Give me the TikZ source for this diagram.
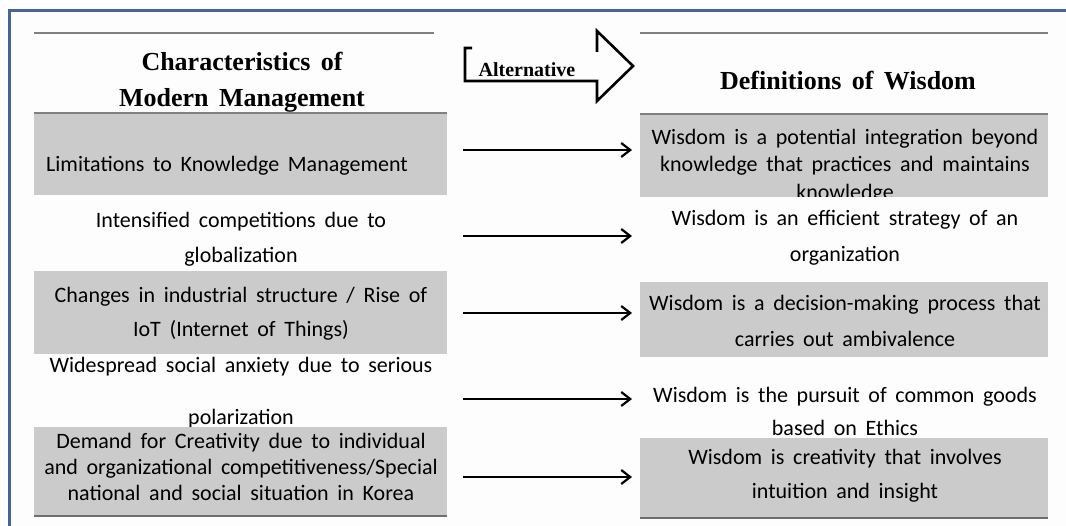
\documentclass[tikz,border=0pt]{standalone}
\usepackage{fontspec}
\setmainfont{Carlito}[WordSpace=1.75]
\newfontfamily\headfont{Liberation Serif}[WordSpace=1.6]
\usetikzlibrary{arrows.meta}
\definecolor{framecol}{HTML}{46649A}
\definecolor{boxgray}{HTML}{CBCBCB}
\definecolor{rulegray}{HTML}{808080}
\definecolor{bottomgray}{HTML}{6E6E6E}
\definecolor{innerbg}{HTML}{FDFDFD}
\tikzset{
  graybox/.style={fill=boxgray, draw=none, inner sep=0pt, outer sep=0pt, anchor=north west},
  whitebox/.style={fill=innerbg, draw=none, inner sep=0pt, outer sep=0pt, anchor=north west},
  body/.style={font=\fontsize{22}{35}\selectfont, align=center, inner sep=0pt},
  head/.style={font=\headfont\bfseries\fontsize{26}{36}\selectfont, align=center, inner sep=0pt},
  alttext/.style={font=\headfont\bfseries\fontsize{20}{22}\selectfont, inner sep=0pt},
  rule/.style={draw=rulegray, line width=2pt},
  baserule/.style={draw=bottomgray, line width=2pt},
  altline/.style={draw=black, line width=2.6pt, line join=miter},
  arr/.style={line width=2.2pt, shorten <=16pt, shorten >=8pt,
    -{Straight Barb[length=9pt,width=14pt,line width=2.2pt]}},
}
\begin{document}
\begin{tikzpicture}[x=1pt,y=-1pt]
\useasboundingbox (0,0) rectangle (1066,526);
\clip (0,0) rectangle (1066,526);
% outer frame (right and bottom sides lie outside the picture)
\draw[framecol, line width=3pt, fill=innerbg] (9.5,10.5) rectangle (1300,800);

% ---------- header area ----------
\draw[rule] (34,33) -- (434,33);
\draw[rule] (640,33) -- (1048,33);
\node[head] (H1) at (242,82) {Characteristics of\\Modern Management};
\node[head] (H2) at (848,81) {Definitions of Wisdom};

% Alternative arrow
\draw[altline] (472,48) -- (465,48) -- (465,81) -- (597,81) -- (597,101) -- (633,66) -- (597,31) -- (597,52);
\node[alttext] (alt) at (527,70) {Alternative};

% ---------- row 1 ----------
\node[graybox, minimum width=413pt, minimum height=81pt] (L1) at (34,114) {};
\node[body, anchor=west] (t1) at (46,166) {Limitations to Knowledge Management};
\node[graybox, minimum width=408pt, minimum height=83pt] (R1) at (640,114) {};
\node[body, font=\fontsize{22}{27.5}\selectfont] (s1) at (845,166) {Wisdom is a potential integration beyond\\knowledge that practices and maintains\\knowledge};
\draw[rule] (34,113) -- (447,113);
\draw[rule] (640,114) -- (1048,114);

% ---------- row 2 ----------
\node[whitebox, minimum width=413pt, minimum height=76pt] (L2) at (34,195) {};
\node[body] (t2) at (241,239) {Intensified competitions due to\\globalization};
\node[whitebox, minimum width=408pt, minimum height=85pt] (R2) at (640,197) {};
\node[body, font=\fontsize{22}{36}\selectfont] (s2) at (845,238) {Wisdom is an efficient strategy of an\\organization};

% ---------- row 3 ----------
\node[graybox, minimum width=413pt, minimum height=83pt] (L3) at (34,271) {};
\node[body, font=\fontsize{22}{34}\selectfont] (t3) at (241,314) {Changes in industrial structure / Rise of\\IoT (Internet of Things)};
\node[graybox, minimum width=408pt, minimum height=75pt] (R3) at (640,282) {};
\node[body, font=\fontsize{22}{36}\selectfont] (s3) at (845,321) {Wisdom is a decision-making process that\\carries out ambivalence};

% ---------- row 4 ----------
\node[whitebox, minimum width=413pt, minimum height=73pt] (L4) at (34,354) {};
\node[body, font=\fontsize{22}{52}\selectfont] (t4) at (241,393) {Widespread social anxiety due to serious\\polarization};
\node[whitebox, minimum width=408pt, minimum height=81pt] (R4) at (640,357) {};
\node[body, font=\fontsize{22}{33}\selectfont] (s4) at (845,411) {Wisdom is the pursuit of common goods\\based on Ethics};

% ---------- row 5 ----------
\node[graybox, minimum width=413pt, minimum height=89pt] (L5) at (34,427) {};
\node[body, font=\fontsize{22}{26}\selectfont] (t5) at (241,467) {Demand for Creativity due to individual\\and organizational competitiveness/Special\\national and social situation in Korea};
\node[graybox, minimum width=408pt, minimum height=80pt] (R5) at (640,438) {};
\node[body, font=\fontsize{22}{34}\selectfont] (s5) at (845,476) {Wisdom is creativity that involves\\intuition and insight};
\draw[baserule] (34,516) -- (447,516);
\draw[baserule] (640,518) -- (1048,518);

% ---------- connectors ----------
\coordinate (a1) at ([yshift=4.5pt]L1.east);
\coordinate (a2) at ([yshift=-3pt]L2.east);
\coordinate (a3) at ([yshift=-0.5pt]L3.east);
\coordinate (a4) at ([yshift=-8.5pt]L4.east);
\coordinate (a5) at ([yshift=-5.5pt]L5.east);
\draw[arr] (a1) -- (a1 -| R1.west);
\draw[arr] (a2) -- (a2 -| R2.west);
\draw[arr] (a3) -- (a3 -| R3.west);
\draw[arr] (a4) -- (a4 -| R4.west);
\draw[arr] (a5) -- (a5 -| R5.west);
\end{tikzpicture}
\end{document}
